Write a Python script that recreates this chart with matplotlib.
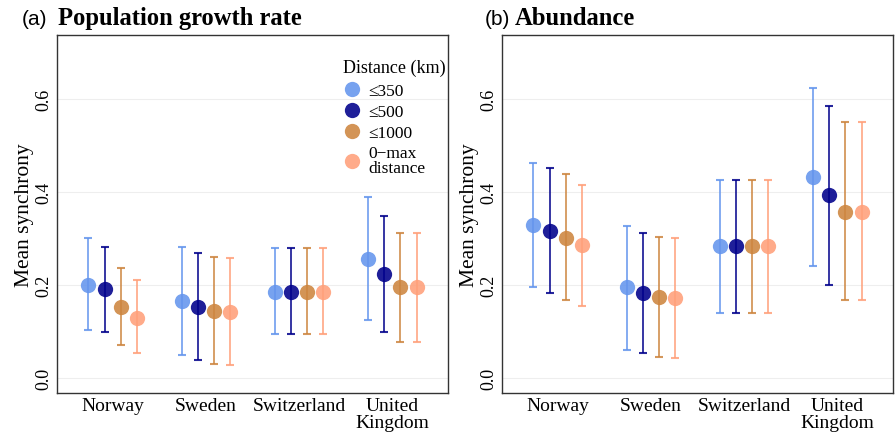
import numpy as np
import matplotlib
matplotlib.use('Agg')
import matplotlib.pyplot as plt
from matplotlib.lines import Line2D

plt.rcParams['font.family'] = ['Liberation Serif', 'DejaVu Serif']

# data
countries = ['Norway', 'Sweden', 'Switzerland', 'United\nKingdom']
distances = ['\u2264350', '\u2264500', '\u22641000', '0\u2212max\ndistance']
colors = ['#6495ED', '#00008B', '#CD853F', '#FFA07A']

# (a) population growth rate: rows = distance class, cols = country
growth_mean = [[0.200, 0.166, 0.186, 0.257],
               [0.191, 0.154, 0.186, 0.223],
               [0.154, 0.144, 0.186, 0.196],
               [0.130, 0.143, 0.186, 0.196]]
growth_lo = [[0.103, 0.050, 0.095, 0.125],
             [0.100, 0.039, 0.095, 0.100],
             [0.071, 0.031, 0.095, 0.078],
             [0.053, 0.029, 0.095, 0.078]]
growth_hi = [[0.301, 0.282, 0.280, 0.389],
             [0.282, 0.269, 0.280, 0.349],
             [0.237, 0.260, 0.280, 0.312],
             [0.210, 0.258, 0.280, 0.312]]

# (b) abundance
abund_mean = [[0.330, 0.195, 0.284, 0.432],
              [0.317, 0.183, 0.284, 0.394],
              [0.302, 0.175, 0.284, 0.358],
              [0.286, 0.173, 0.284, 0.358]]
abund_lo = [[0.196, 0.061, 0.140, 0.242],
            [0.183, 0.054, 0.140, 0.201],
            [0.168, 0.045, 0.140, 0.167],
            [0.155, 0.044, 0.140, 0.167]]
abund_hi = [[0.462, 0.328, 0.426, 0.623],
            [0.451, 0.312, 0.426, 0.586],
            [0.439, 0.304, 0.426, 0.551],
            [0.416, 0.302, 0.426, 0.551]]


def draw_panel(ax, mean, lo, hi):
    x = np.arange(1, len(countries) + 1)
    width = 0.7
    n = len(distances)
    for i in range(n):
        off = -width / 2 + width / n * (i + 0.5)
        m = np.array(mean[i])
        yerr = [m - np.array(lo[i]), np.array(hi[i]) - m]
        ax.errorbar(x + off, m, yerr=yerr, fmt='none', ecolor=colors[i],
                    elinewidth=1.3, capsize=2.7, capthick=1.5, alpha=0.85, zorder=2)
    for i in range(n):
        off = -width / 2 + width / n * (i + 0.5)
        ax.plot(x + off, mean[i], 'o', color=colors[i], markersize=11,
                markeredgewidth=0, alpha=0.88, zorder=3)
    ax.set_xlim(0.4, 4.6)
    ax.set_ylim(-0.032, 0.738)
    ax.set_xticks(x)
    ax.set_xticklabels(countries, fontsize=14, linespacing=0.95)
    ax.set_yticks([0.0, 0.2, 0.4, 0.6])
    ax.set_yticklabels(['0.0', '0.2', '0.4', '0.6'], fontsize=13,
                       rotation=90, va='center')
    ax.tick_params(length=0, pad=3)
    ax.grid(True, axis='y', color='#EEEEEE', linewidth=0.8)
    ax.set_axisbelow(True)
    for s in ax.spines.values():
        s.set_color('#333333')
        s.set_linewidth(1.0)
    ax.set_ylabel('Mean synchrony', fontsize=15.5, labelpad=1.5)


fig = plt.figure(figsize=(8.96, 4.39), dpi=100)
ax1 = fig.add_axes([57 / 896, 1 - 394 / 439, 391 / 896, 358 / 439])
ax2 = fig.add_axes([502 / 896, 1 - 394 / 439, 391 / 896, 358 / 439])

draw_panel(ax1, growth_mean, growth_lo, growth_hi)
draw_panel(ax2, abund_mean, abund_lo, abund_hi)

handles = [Line2D([], [], marker='o', linestyle='none', color=c, markersize=11,
                  markeredgewidth=0, alpha=0.88) for c in colors]
leg = ax1.legend(handles, distances, title='Distance (km)', loc='upper left',
                 bbox_to_anchor=(0.71, 0.958), frameon=False, fontsize=12.5,
                 title_fontsize=13, handlelength=1.0, handletextpad=0.45,
                 labelspacing=0.27, borderpad=0, alignment='left')
leg._legend_box.sep = 5
for t in leg.get_texts():
    t.set_linespacing(0.9)

fig.text(22 / 896, 1 - 25 / 439, '(a)', family='Liberation Sans', fontsize=15)
fig.text(58 / 896, 1 - 25 / 439, 'Population growth rate', fontsize=17.7,
         fontweight='bold')
fig.text(485 / 896, 1 - 25 / 439, '(b)', family='Liberation Sans', fontsize=15)
fig.text(515 / 896, 1 - 25 / 439, 'Abundance', fontsize=17.7, fontweight='bold')

fig.savefig('out.png', dpi=100)
